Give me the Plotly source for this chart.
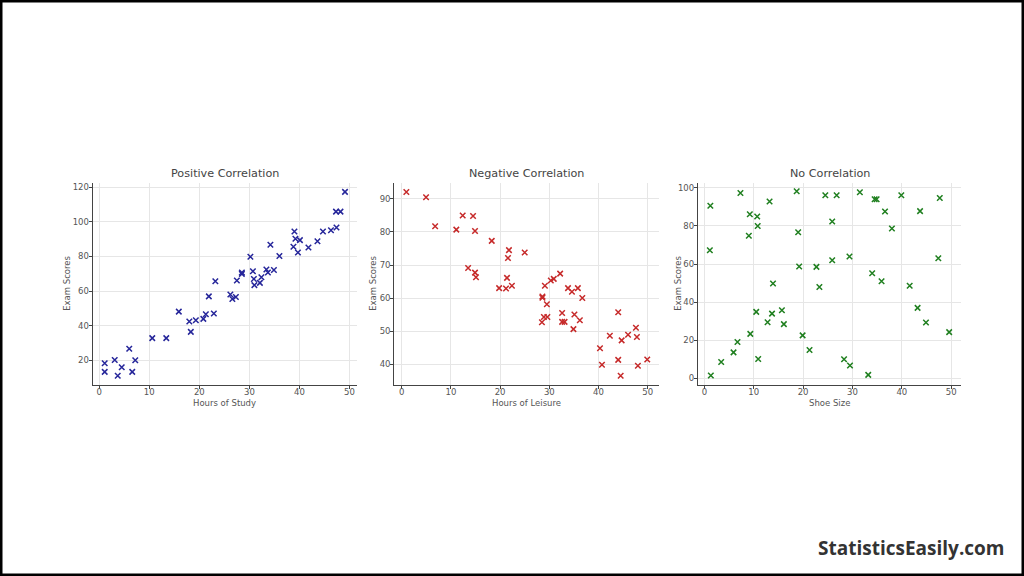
import plotly.graph_objects as go

# ---------------- data ----------------
study_hours = [1.1, 1.1, 3.1, 3.7, 4.5, 6.0, 6.6, 7.2, 10.6, 13.4, 15.9, 18.0, 18.3, 19.3,
               20.8, 21.3, 21.9, 22.9, 23.2, 26.2, 26.6, 27.3, 27.5, 28.5, 28.5, 30.2, 30.7,
               30.9, 31.0, 32.1, 32.4, 33.4, 33.7, 34.2, 34.9, 36.0, 38.8, 39.0, 39.2, 39.7,
               40.1, 41.8, 43.6, 44.7, 46.3, 47.4, 47.3, 48.2, 49.1]
study_scores = [18.3, 13.3, 20.2, 11.0, 16.0, 26.7, 13.3, 20.0, 32.8, 32.8, 48.1, 42.4, 36.4, 43.1,
                43.9, 46.6, 56.9, 47.0, 65.7, 58.0, 55.4, 56.5, 66.1, 69.9, 70.7, 79.8, 71.4,
                67.0, 63.4, 64.7, 68.0, 72.4, 70.7, 86.7, 72.2, 80.2, 85.6, 94.4, 90.2, 82.3,
                89.4, 85.2, 88.8, 94.4, 95.1, 96.7, 105.9, 105.9, 117.3]

leisure_hours = [0.95, 4.95, 6.8, 11.1, 12.4, 14.5, 14.9, 13.5, 14.9, 15.1, 18.3, 21.8, 21.6,
                 25.0, 21.4, 19.8, 21.2, 22.4, 28.6, 28.6, 29.1, 29.5, 28.5, 28.9, 29.6, 30.3,
                 30.9, 32.2, 32.6, 32.6, 33.1, 33.8, 34.6, 35.8, 35.1, 34.9, 36.2, 36.7, 40.3,
                 40.7, 42.3, 44.0, 44.0, 44.7, 44.5, 46.0, 47.6, 47.8, 48.0, 49.9]
leisure_scores = [92.1, 90.5, 81.7, 80.7, 85.0, 84.8, 80.3, 69.1, 67.7, 66.3, 77.3, 74.5, 72.1,
                  73.8, 66.1, 63.0, 62.9, 63.7, 60.5, 60.1, 63.7, 58.1, 52.7, 54.3, 54.3, 65.3,
                  65.8, 67.4, 55.5, 52.8, 52.8, 63.0, 61.9, 63.0, 55.0, 50.6, 53.3, 60.0, 44.8,
                  39.8, 48.6, 55.7, 41.3, 47.2, 36.5, 48.9, 51.0, 48.2, 39.5, 41.4]

shoe_size = [1.2, 1.1, 1.3, 3.4, 5.9, 6.7, 7.3, 9.2, 9.0, 9.3, 10.7, 10.8, 10.5, 10.9, 13.2,
             12.8, 13.7, 13.9, 15.7, 16.1, 18.7, 19.0, 19.2, 19.9, 21.3, 22.7, 23.3, 24.5,
             26.8, 25.9, 25.9, 28.3, 29.5, 29.4, 31.5, 33.2, 34.0, 34.5, 34.9, 35.9, 36.6,
             38.0, 39.9, 41.6, 43.2, 43.7, 44.9, 47.4, 47.7, 49.6]
shoe_scores = [90.5, 67.2, 1.6, 8.7, 13.7, 19.1, 97.2, 86.1, 74.8, 23.4, 84.9, 79.9, 34.9, 10.2,
               92.7, 29.5, 34.0, 49.8, 35.8, 28.5, 98.1, 76.6, 58.7, 22.6, 14.9, 58.5, 47.9,
               96.0, 96.0, 82.3, 62.0, 10.1, 6.8, 63.9, 97.6, 1.9, 55.2, 93.9, 93.9, 51.0,
               87.5, 78.6, 96.0, 48.6, 37.0, 87.7, 29.3, 63.0, 94.6, 24.3]

titles = ["Positive Correlation", "Negative Correlation", "No Correlation"]
x_labels = ["Hours of Study", "Hours of Leisure", "Shoe Size"]
y_label = "Exam Scores"
colors = ["#26269a", "#c62a2a", "#1f7f1f"]

# ---------------- layout geometry ----------------
W, H = 1024, 576
x_domains = [(92.7, 357.0), (394.3, 659.3), (698.0, 961.0)]
y_top, y_bot = 182.7, 385.0
x_ranges = [(-1.3, 51.5), (-1.5, 52.35), (-1.3, 52.0)]
y_ranges = [(5.7, 122.6), (33.7, 94.9), (-3.4, 102.6)]
y_ticks = [list(range(20, 121, 20)), list(range(40, 91, 10)), list(range(0, 101, 20))]
x_ticks = list(range(0, 51, 10))

FONT = "DejaVu Sans"
fig = go.Figure()
series = [(study_hours, study_scores), (leisure_hours, leisure_scores), (shoe_size, shoe_scores)]

layout = dict(
    width=W, height=H, margin=dict(l=0, r=0, t=0, b=0),
    paper_bgcolor="white", plot_bgcolor="white", showlegend=False,
    font=dict(family=FONT, size=8.5, color="#555555"),
)
annotations = []
for i, (xs, ys) in enumerate(series):
    sfx = "" if i == 0 else str(i + 1)
    fig.add_trace(go.Scatter(
        x=xs, y=ys, mode="markers", xaxis="x" + sfx, yaxis="y" + sfx,
        marker=dict(symbol="x-thin", size=5.5, color=colors[i],
                    line=dict(width=1.5, color=colors[i])),
    ))
    common = dict(showgrid=True, gridcolor="#e6e6e6", gridwidth=1, zeroline=False,
                  showline=True, linecolor="#444444", linewidth=1.2,
                  ticks="outside", ticklen=3, tickwidth=1, tickcolor="#444444",
                  tickfont=dict(family=FONT, size=8.5, color="#555555"), mirror=False)
    layout["xaxis" + sfx] = dict(common, domain=[x_domains[i][0] / W, x_domains[i][1] / W],
                                 range=list(x_ranges[i]), tickvals=x_ticks,
                                 anchor="y" + sfx, ticklabelstandoff=-4)
    layout["yaxis" + sfx] = dict(common, domain=[1 - y_bot / H, 1 - y_top / H],
                                 range=list(y_ranges[i]), tickvals=y_ticks[i],
                                 anchor="x" + sfx, ticklabelstandoff=-2)
    cx = (x_domains[i][0] + x_domains[i][1]) / 2 / W
    annotations.append(dict(text=titles[i], x=cx, y=1 - 173 / H, xref="paper", yref="paper",
                            showarrow=False, xanchor="center", yanchor="middle",
                            font=dict(family=FONT, size=11.2, color="#444444")))
    annotations.append(dict(text=x_labels[i], x=cx, y=1 - 403 / H, xref="paper", yref="paper",
                            showarrow=False, xanchor="center", yanchor="middle",
                            font=dict(family=FONT, size=8.5, color="#555555")))
    ylx = [67, 373, 678][i]
    annotations.append(dict(text=y_label, x=ylx / W, y=1 - (y_top + y_bot) / 2 / H,
                            xref="paper", yref="paper", textangle=-90,
                            showarrow=False, xanchor="center", yanchor="middle",
                            font=dict(family=FONT, size=8.5, color="#555555")))

annotations.append(dict(text="<b>StatisticsEasily.com</b>", x=1007 / W, y=1 - 548 / H,
                        xref="paper", yref="paper", showarrow=False,
                        xanchor="right", yanchor="middle",
                        font=dict(family="Open Sans", size=19, color="#333333")))
layout["annotations"] = annotations
layout["shapes"] = [dict(type="rect", xref="paper", yref="paper", x0=0, y0=0, x1=1, y1=1,
                         line=dict(color="black", width=5), fillcolor="rgba(0,0,0,0)")]
fig.update_layout(**layout)
fig.write_html("out.html", config={"displayModeBar": False},
               post_script="document.body.style.margin='0';document.body.style.overflow='hidden';")
